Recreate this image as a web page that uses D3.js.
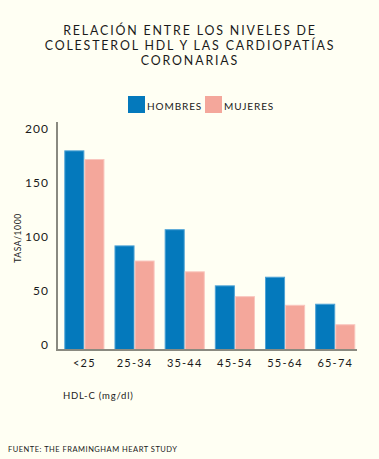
<!DOCTYPE html>
<html><head><meta charset="utf-8">
<script src="https://cdn.jsdelivr.net/npm/d3@7"></script>
<style>
html,body{margin:0;padding:0;background:#FFFFF3;}
svg{display:block;font-family:Lato, "Open Sans", sans-serif;}
</style></head>
<body>
<svg id="c" width="379" height="459"></svg>
<script>
const categories = ["<25","25-34","35-44","45-54","55-64","65-74"];
const hombres = [183, 95, 110, 58, 66, 41];
const mujeres = [175, 81, 71, 48, 40, 22];
const seriesNames = ["HOMBRES","MUJERES"];
const colors = ["#0479BC","#F4A79B"];
const strokeColors = ["#4FA3D6","#F9C6BE"];
const yTicks = [0,50,100,150,200];
const titleLines = ["RELACIÓN ENTRE LOS NIVELES DE","COLESTEROL HDL Y LAS CARDIOPATÍAS","CORONARIAS"];

const svg = d3.select("#c");
svg.append("rect").attr("width",379).attr("height",459).attr("fill","#FFFFF3");

const x0 = d3.scaleBand().domain(categories).range([64.3,355.3]).paddingInner(0.2).paddingOuter(0);
const x1 = d3.scaleBand().domain(seriesNames).range([0,x0.bandwidth()]);
const y = d3.scaleLinear().domain([0,200]).range([348,132]);

// title
svg.append("g").selectAll("text").data(titleLines).join("text")
  .attr("x",190).attr("y",(d,i)=>35.4+i*14.9)
  .attr("text-anchor","middle").attr("font-size",12.4).attr("letter-spacing",1.85)
  .attr("fill","#1a1a1a").text(d=>d);

// legend
const lg = svg.append("g");
const legX = [128,205];
seriesNames.forEach((s,i)=>{
  lg.append("rect").attr("x",legX[i]).attr("y",96).attr("width",17).attr("height",17).attr("fill",colors[i]);
  lg.append("text").attr("x",legX[i]+19).attr("y",109.5).attr("font-size",10).attr("letter-spacing",0.9)
    .attr("fill","#1a1a1a").text(s);
});

// bars
const data = categories.map((c,i)=>({cat:c, vals:[hombres[i],mujeres[i]]}));
const gb = svg.append("g");
data.forEach(d=>{
  d.vals.forEach((v,j)=>{
    gb.append("rect")
      .attr("x",x0(d.cat)+x1(seriesNames[j])+0.5)
      .attr("y",y(v)+0.5)
      .attr("width",x1.bandwidth()-1)
      .attr("height",y(0)-y(v)+1)
      .attr("fill",colors[j]).attr("stroke",strokeColors[j]).attr("stroke-width",1);
  });
});

// axes lines
svg.append("line").attr("x1",57).attr("x2",57).attr("y1",122).attr("y2",350).attr("stroke","#8a8a80").attr("stroke-width",2);
svg.append("line").attr("x1",56).attr("x2",357).attr("y1",350).attr("y2",350).attr("stroke","#8a8a80").attr("stroke-width",2);

// y tick labels
const yAxis = d3.axisLeft(y).tickValues(yTicks).tickSize(0).tickPadding(0);
const ga = svg.append("g").attr("transform","translate(49,-3)").call(yAxis);
ga.select(".domain").remove();
ga.selectAll("text").attr("font-size",12).attr("font-family","Lato, sans-serif").attr("fill","#1a1a1a").attr("letter-spacing",1);

// x tick labels
const xAxis = d3.axisBottom(x0).tickSize(0).tickPadding(0);
const gx = svg.append("g").attr("transform","translate(0,359)").call(xAxis);
gx.select(".domain").remove();
gx.selectAll("text").attr("font-size",11).attr("font-family","Lato, sans-serif").attr("fill","#1a1a1a").attr("letter-spacing",1.2);

// y title
svg.append("text").attr("transform","translate(21,238) rotate(-90)").attr("text-anchor","middle")
  .attr("font-size",8.5).attr("letter-spacing",0.6).attr("fill","#1a1a1a").text("TASA/1000");

// x title
svg.append("text").attr("x",63).attr("y",399).attr("font-size",9.5).attr("letter-spacing",0.8)
  .attr("fill","#1a1a1a").text("HDL-C (mg/dl)");

// source
svg.append("text").attr("x",8).attr("y",452).attr("font-size",7.5).attr("letter-spacing",0.5)
  .attr("fill","#1a1a1a").text("FUENTE: THE FRAMINGHAM HEART STUDY");
</script>
</body></html>
